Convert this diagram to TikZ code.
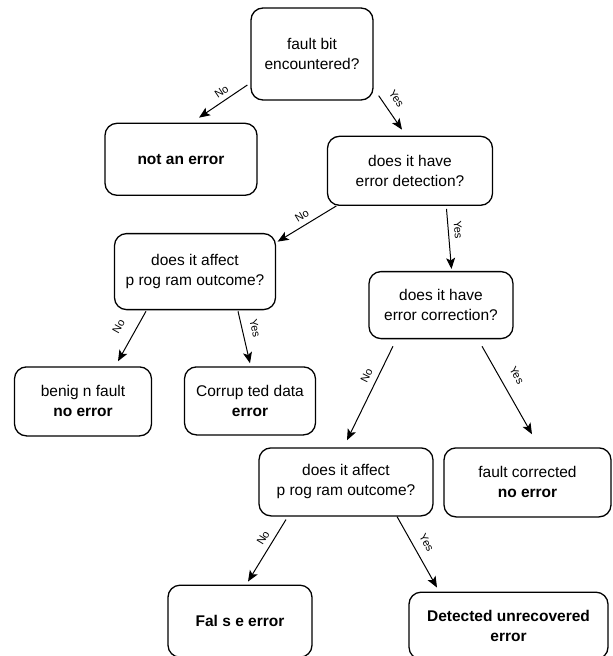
\documentclass[tikz,border=0pt]{standalone}
\usepackage{fontspec}
\setmainfont{Liberation Sans}
\usetikzlibrary{arrows.meta, positioning}

\begin{document}
\begin{tikzpicture}[
        every node/.style={font=\fontsize{15.5}{20}\selectfont},
        question/.style={
            rectangle,
            rounded corners=12pt,
            draw,
            line width=1.3pt,
            align=center
        },
        outcome/.style={
            question
        },
        arrow/.style={
            -{Stealth[length=11pt, width=9pt, inset=2.5pt]},
            line width=1pt
        },
        answer/.style={
            font=\fontsize{11}{12}\selectfont,
            sloped,
            above,
            inner sep=5.5pt
        }
    ]

    \useasboundingbox (0pt,0pt) rectangle (613pt,-656pt);

    % Start
    \node[question, minimum width=122pt, minimum height=92pt] (fault)
        at (312pt,-54pt)
        {fault bit\\
         encountered?};

    % No fault
    \node[outcome, below=22pt of fault, xshift=-131pt,
          minimum width=152pt, minimum height=72pt] (noerr)
        {\textbf{not an error}};

    % Detection
    \node[question, below=35pt of fault, xshift=98pt,
          minimum width=165pt, minimum height=69pt] (detect)
        {does it have\\
         error detection?};

    % No detection
    \node[question, below=27pt of detect, xshift=-215pt,
          minimum width=161pt, minimum height=76pt] (affectA)
        {does it affect\\
         p rog ram outcome?};

    \node[outcome, below=56pt of affectA, xshift=-112pt,
          minimum width=137pt, minimum height=69pt] (benign)
        {benig n fault\\
         \textbf{no error}};

    \node[outcome, below=56pt of affectA, xshift=55pt,
          minimum width=131pt, minimum height=68pt] (corrupt)
        {Corrup ted data\\
         \textbf{error}};

    % Correction
    \node[question, below=65pt of detect, xshift=31pt,
          minimum width=144pt, minimum height=67pt] (correct)
        {does it have\\
         error correction?};

    \node[question, below=108pt of correct, xshift=-95pt,
          minimum width=174pt, minimum height=68pt] (affectB)
        {does it affect\\
         p rog ram outcome?};

    \node[outcome, below=108pt of correct, xshift=86.5pt,
          minimum width=167pt, minimum height=69pt] (fixed)
        {fault corrected\\
         \textbf{no error}};

    % Final outcomes
    \node[outcome, below=68pt of affectB, xshift=-106pt,
          minimum width=144pt, minimum height=72pt] (falseerr)
        {\textbf{Fal s e error}};

    \node[outcome, below=75pt of affectB, xshift=162.5pt,
          minimum width=199pt, minimum height=67pt] (detected)
        {\textbf{Detected unrecovered}\\
         \textbf{error}};

    % Arrows from start
    \draw[arrow] ([xshift=-3pt, yshift=-31pt]fault.west)
        -- node[answer, pos=0.43, inner sep=4.5pt] {No}
        ([xshift=18pt, yshift=5pt]noerr.north);

    \draw[arrow] ([xshift=5pt, yshift=5pt]fault.south east)
        -- node[answer, pos=0.31, inner sep=8.5pt] {Yes}
        ([xshift=-8pt, yshift=6pt]detect.north);

    % Detection branches
    \draw[arrow] ([xshift=9.5pt]detect.south west)
        -- node[answer, pos=0.5] {No}
        ([xshift=1.5pt, yshift=30pt]affectA.east);

    \draw[arrow] ([xshift=36.5pt, yshift=-3pt]detect.south)
        -- node[answer, pos=0.36] {Yes}
        ([xshift=10.5pt, yshift=2pt]correct.north);

    % Program outcome branches
    \draw[arrow] ([xshift=-49pt, yshift=-1pt]affectA.south)
        -- node[answer, pos=0.47, inner sep=12pt] {No}
        ([xshift=35pt, yshift=5pt]benign.north);

    \draw[arrow] ([xshift=43pt, yshift=-1pt]affectA.south)
        -- node[answer, pos=0.38, inner sep=8.5pt] {Yes}
        ([yshift=3pt]corrupt.north);

    % Correction branches
    \draw[arrow] ([xshift=-48pt, yshift=-7pt]correct.south)
        -- node[answer, pos=0.36, inner sep=6.5pt] {No}
        ([xshift=1pt, yshift=7pt]affectB.north);

    \draw[arrow] ([xshift=41pt, yshift=-7pt]correct.south)
        -- node[answer, pos=0.42, inner sep=11.5pt] {Yes}
        ([xshift=4.5pt, yshift=13pt]fixed.north);

    % Last branches
    \draw[arrow] ([xshift=-60pt, yshift=-3pt]affectB.south)
        -- node[answer, pos=0.38] {No}
        ([xshift=8pt, yshift=3pt]falseerr.north);

    \draw[arrow] ([xshift=51pt]affectB.south)
        -- node[answer, pos=0.46, inner sep=8.5pt] {Yes}
        ([xshift=-71.5pt, yshift=4pt]detected.north);

\end{tikzpicture}
\end{document}
